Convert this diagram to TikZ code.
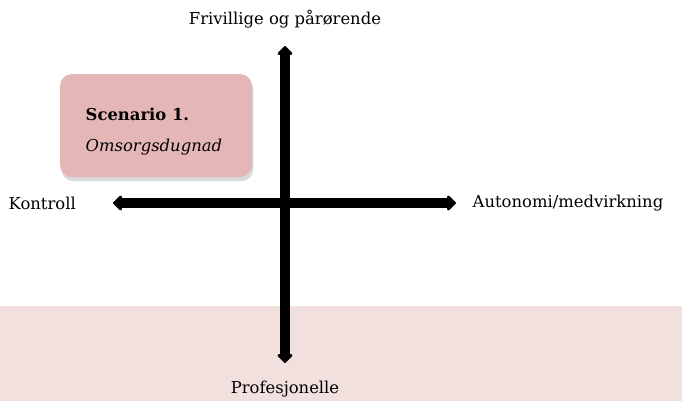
\documentclass[tikz,border=0pt]{standalone}
\usepackage{fontspec}
\setmainfont{DejaVu Serif}
\usetikzlibrary{arrows.meta,shadows}
\definecolor{bandpink}{HTML}{F2E0DF}
\definecolor{boxpink}{HTML}{E5B6B6}
\tikzset{
    axis/.style={line width=7pt,{Triangle[width=13pt,length=7pt,round]}-{Triangle[width=13pt,length=7pt,round]}},
    scenbox/.style={fill=boxpink,rounded corners=9pt,drop shadow={opacity=0.3,shadow xshift=1pt,shadow yshift=-3pt}},
}
\begin{document}
\begin{tikzpicture}[x=0.75pt,y=-0.75pt]
    \useasboundingbox (0,0) rectangle (682,401);
    \fill[bandpink] (0,306) rectangle (682,401);

    \fill[scenbox] (60,74) rectangle (252,177);
    \node[anchor=west,font=\bfseries\fontsize{12.3}{14}\selectfont] (scen) at (81,114) {Scenario 1.};
    \node[anchor=west,font=\itshape\fontsize{12.3}{14}\selectfont] (omsorg) at (81,147) {Omsorgsdugnad};

    \begin{scope}[font=\fontsize{12.3}{14}\selectfont]
        \node (top) at (285,19) {Frivillige og pårørende};
        \node (bottom) at (285,389) {Profesjonelle};
        \node[anchor=west] (left) at (4,203) {Kontroll};
        \node[anchor=west] (right) at (468,203) {Autonomi/medvirkning};
    \end{scope}

    \coordinate (n) at (285,46);
    \coordinate (s) at (285,363);
    \coordinate (w) at (113,203);
    \coordinate (e) at (456,203);
    \draw[axis] (w) -- (e);
    \draw[axis] (n) -- (s);
\end{tikzpicture}
\end{document}
